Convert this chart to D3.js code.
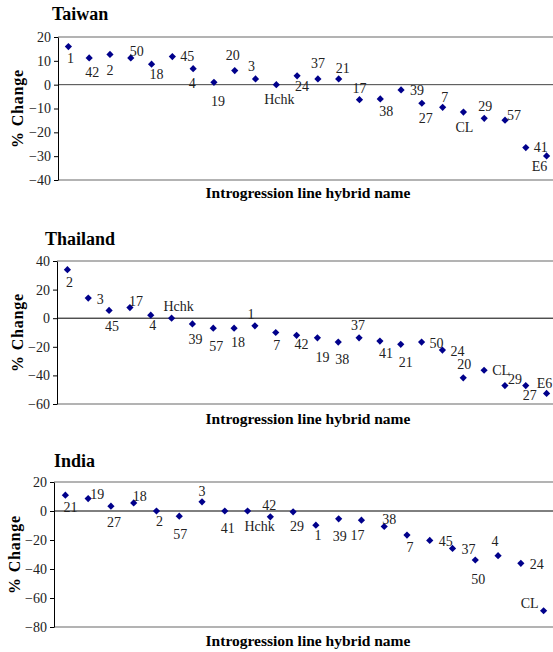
<!DOCTYPE html>
<html>
<head>
<meta charset="utf-8">
<script src="https://cdn.jsdelivr.net/npm/d3@7"></script>
<style>
  body { margin: 0; background: #fff; }
  svg text { font-family: "Liberation Serif", "Times New Roman", serif; }
</style>
</head>
<body>
<div id="chart"></div>
<script>
// ==== data ====
const taiwanNames  = ["1","42","2","50","18","45","4","19","20","3","Hchk","24","37","21","17","38","39","27","7","CL","29","57","41","E6"];
const taiwanValues = [16.0,11.2,12.7,11.2,8.6,11.8,6.7,1.0,5.9,2.4,0,3.7,2.4,2.4,-6.3,-6.0,-2.2,-7.8,-9.5,-11.5,-14.1,-14.9,-26.4,-29.9];

const thaiNames  = ["2","3","45","17","4","Hchk","39","57","18","1","7","42","19","38","37","41","21","50","24","20","CL","29","27","E6"];
const thaiValues = [33.9,14.1,5.4,7.4,2.1,0,-4.0,-7.0,-7.0,-5.3,-10.0,-12.0,-13.7,-16.7,-13.7,-16.0,-18.3,-16.7,-22.3,-41.7,-36.4,-47.1,-47.1,-52.6];

const indiaNames  = ["21","19","27","18","2","57","3","41","Hchk","42","29","1","39","17","38","7","45","37","50","4","24","CL"];
const indiaValues = [10.9,8.6,3.3,5.6,0,-3.6,6.3,0,0,-4.0,-0.6,-9.8,-5.4,-6.3,-10.7,-16.6,-20.3,-25.8,-33.8,-30.8,-36.1,-68.8];

const taiwanTicks = [20,10,0,-10,-20,-30,-40];
const thaiTicks   = [40,20,0,-20,-40,-60];
const indiaTicks  = [20,0,-20,-40,-60,-80];

// label offsets (dx, dy of label centre from marker)
const taiwanLabelPos = [[2,12],[3,14],[0,16],[6,-7],[5,10],[15,0],[-1,14],[4,19],[-2,-16],[-4,-13],[3,14],[5,10],[0,-16],[4,-11],[0,-12],[6,12],[16,0],[4,15],[2,-10],[1,15],[1,-12],[9,-5],[15,0],[-7,10]];
const thaiLabelPos   = [[2,12],[12,1],[3,16],[6,-7],[2,10],[7,-12],[3,15],[3,18],[4,14],[-4,-12],[1,13],[5,9],[5,19],[4,17],[-1,-13],[6,12],[5,18],[15,1],[15,1],[1,-14],[17,0],[10,-6],[4,10],[-2,-10]];
const indiaLabelPos  = [[5,12],[9,-4],[3,16],[6,-7],[3,10],[1,18],[0,-11],[3,17],[12,15],[-1,-12],[4,14],[2,10],[1,17],[-4,15],[5,-7],[3,12],[16,1],[16,1],[3,19],[-3,-15],[16,1],[-14,-8]];

const panels = [
  { title: "Taiwan",   names: taiwanNames, values: taiwanValues, ticks: taiwanTicks, pos: taiwanLabelPos,
    left: 58, top: 37, bottom: 180, right: 557, domain: [-40, 20], zeroColor: "#444",
    titleX: 52, titleY: 20, xLabelY: 198, yLabelX: 23 },
  { title: "Thailand", names: thaiNames, values: thaiValues, ticks: thaiTicks, pos: thaiLabelPos,
    left: 57, top: 261, bottom: 404, right: 557, domain: [-60, 40], zeroColor: "#000",
    titleX: 45, titleY: 245, xLabelY: 424, yLabelX: 23 },
  { title: "India",    names: indiaNames, values: indiaValues, ticks: indiaTicks, pos: indiaLabelPos,
    left: 54, top: 482, bottom: 627, right: 555, domain: [-80, 20], zeroColor: "#000",
    titleX: 54, titleY: 467, xLabelY: 646, yLabelX: 20 }
];

const W = 553, H = 652;

const svg = d3.select("#chart")
  .append("svg")
    .attr("width", W)
    .attr("height", H);

const diamond = d3.symbol().type(d3.symbolSquare).size(26);

panels.forEach(p => {
  const g = svg.append("g");

  const x = d3.scaleBand()
    .domain(p.names)
    .range([p.left, p.right]);

  const y = d3.scaleLinear()
    .domain(p.domain)
    .range([p.bottom, p.top]);

  // grey frame lines top / bottom
  g.append("line")
    .attr("x1", p.left).attr("x2", W)
    .attr("y1", p.top).attr("y2", p.top)
    .attr("stroke", "#9a9a9a").attr("stroke-width", 1.5);
  g.append("line")
    .attr("x1", p.left).attr("x2", W)
    .attr("y1", p.bottom).attr("y2", p.bottom)
    .attr("stroke", "#9a9a9a").attr("stroke-width", 1.5);

  // zero line
  g.append("line")
    .attr("x1", p.left).attr("x2", W)
    .attr("y1", y(0)).attr("y2", y(0))
    .attr("stroke", p.zeroColor).attr("stroke-width", 1);

  // y axis
  const yAxis = g.append("g")
    .attr("transform", `translate(${p.left},0)`)
    .call(d3.axisLeft(y).tickValues(p.ticks).tickSize(4).tickPadding(3).tickSizeOuter(0));
  yAxis.select(".domain").attr("stroke", "#000");
  yAxis.selectAll(".tick line").attr("stroke", "#000");
  yAxis.selectAll(".tick text")
    .attr("font-size", 14)
    .attr("fill", "#222")
    .style("font-family", "Liberation Serif, serif");

  // titles
  g.append("text")
    .attr("x", p.titleX).attr("y", p.titleY)
    .attr("font-size", 18).attr("font-weight", "bold")
    .text(p.title);

  g.append("text")
    .attr("x", 308).attr("y", p.xLabelY)
    .attr("text-anchor", "middle")
    .attr("font-size", 15.5).attr("font-weight", "bold")
    .text("Introgression line hybrid name");

  g.append("text")
    .attr("transform", `translate(${p.yLabelX},${(p.top + p.bottom) / 2}) rotate(-90)`)
    .attr("text-anchor", "middle")
    .attr("font-size", 16).attr("font-weight", "bold")
    .attr("letter-spacing", 0.8)
    .text("%  Change");

  // points
  const pts = p.names.map((n, i) => ({ name: n, value: p.values[i], off: p.pos[i] }));

  g.selectAll(".pt")
    .data(pts)
    .enter()
    .append("path")
      .attr("class", "pt")
      .attr("d", diamond)
      .attr("transform", d => `translate(${x(d.name) + x.bandwidth() / 2},${y(d.value)}) rotate(45)`)
      .attr("fill", "#00008b");

  g.selectAll(".lbl")
    .data(pts)
    .enter()
    .append("text")
      .attr("class", "lbl")
      .attr("x", d => x(d.name) + x.bandwidth() / 2 + d.off[0])
      .attr("y", d => y(d.value) + d.off[1])
      .attr("dy", "0.35em")
      .attr("text-anchor", "middle")
      .attr("font-size", 14)
      .attr("fill", "#222")
      .text(d => d.name);
});
</script>
</body>
</html>
